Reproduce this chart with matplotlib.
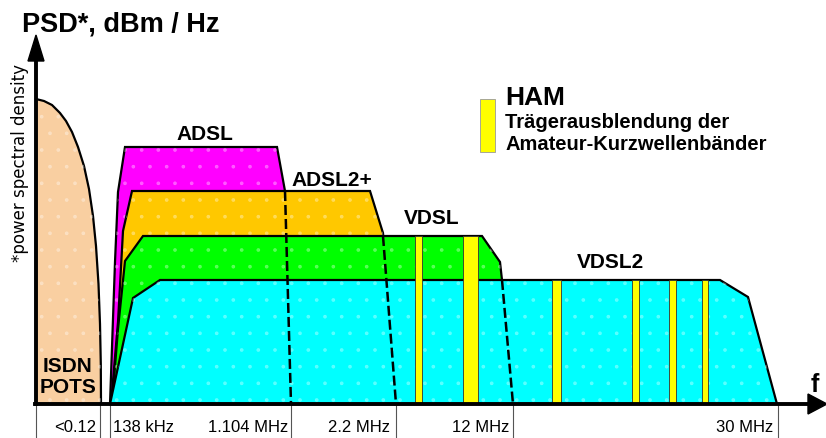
import matplotlib.pyplot as plt

plt.rcParams["hatch.linewidth"] = 0.2

# diagram units: x = position along the frequency axis, y = PSD level above baseline
pots_f = [36, 44, 52, 60, 66, 72, 78, 84, 89, 93, 96, 98.5, 100, 100.8, 101]
pots_psd = [305, 303, 299, 291, 283, 272, 257, 238, 215, 188, 158, 120, 80, 40, 0]

adsl_f = [110, 115, 118, 125, 277, 285, 291]
adsl_psd = [0, 142, 212, 257, 257, 213, 0]

adsl2p_f = [111, 118, 123, 132, 370, 383, 396]
adsl2p_psd = [0, 82, 173, 213, 213, 171, 0]

vdsl_f = [112, 118, 125, 143, 482, 500, 502, 513]
vdsl_psd = [0, 75, 143, 168, 168, 142, 124, 0]

vdsl2_f = [110, 133, 160, 720, 748, 777]
vdsl2_psd = [0, 106, 124, 124, 107, 0]

# cut-off (dashed) lines where a band disappears under the next one
cutoff_f = [(285, 291), (383, 396), (502, 513)]
cutoff_psd = [(213, 0), (168, 0), (124, 0)]

# HAM notches: left edge, width, top
ham_left = [415, 463, 552, 632, 669, 702]
ham_width = [7, 15, 9, 7, 7, 6]
ham_top = [168, 168, 124, 124, 124, 124]

tick_pos = [36, 100, 110, 291, 396, 513, 778]
tick_labels = ["<0.12", "138 kHz", "1.104 MHz", "2.2 MHz", "12 MHz", "30 MHz"]
label_x = [96, 113, 288, 390, 509, 773]
label_ha = ["right", "left", "right", "right", "right", "right"]

band_names = ["ADSL", "ADSL2+", "VDSL", "VDSL2"]
band_name_xy = [(205, 270), (332, 225), (432, 186), (610, 143)]

fig = plt.figure(figsize=(8.26, 4.39), dpi=100)
ax = fig.add_axes([0, 0, 1, 1])
ax.set_xlim(0, 826)
ax.set_ylim(-34, 405)
ax.axis("off")

font = "Liberation Sans"
edge = dict(edgecolor="black", linewidth=1.6)

bands = [
    (pots_f + [36], pots_psd + [0], "#f9cfa1"),
    (adsl_f, adsl_psd, "#ff00ff"),
    (adsl2p_f, adsl2p_psd, "#ffc800"),
    (vdsl_f, vdsl_psd, "#00ff00"),
    (vdsl2_f, vdsl2_psd, "#00ffff"),
]
for i, (f, p, c) in enumerate(bands):
    ax.fill(f, p, facecolor=c, zorder=1 + i, **edge)
    # faint dotted texture
    ax.fill(f, p, facecolor="none", edgecolor=(1, 1, 1, 0.35), linewidth=0,
            hatch=".", zorder=1 + i)

ax.bar(ham_left, ham_top, width=ham_width, align="edge", color="#ffff00",
       edgecolor="#333333", linewidth=0.6, zorder=6)

for f, p in zip(cutoff_f, cutoff_psd):
    ax.plot(f, p, color="black", linestyle=(0, (4, 1.6)), linewidth=1.8, zorder=7)

# axes with arrows
ax.plot([36, 36], [0, 345], color="black", linewidth=2.8, zorder=8)
ax.fill([28, 44, 36], [343, 343, 369], color="black", zorder=8)
ax.plot([35, 810], [0, 0], color="black", linewidth=2.8, zorder=8)
ax.fill([808, 808, 827], [10, -10, 0], color="black", zorder=8)

for x in tick_pos:
    ax.plot([x, x], [0, -34], color="#555555", linewidth=0.8, zorder=1)
for x, t, ha in zip(label_x, tick_labels, label_ha):
    ax.text(x, -23, t, ha=ha, va="center", fontsize=12, family=font)

ax.text(22, 380, "PSD*, dBm / Hz", ha="left", va="center", fontsize=19.5,
        fontweight="bold", family=font)
ax.text(20, 242, "*power spectral density", rotation=90, ha="center",
        va="center", fontsize=12, family="DejaVu Sans")
ax.text(815, 20, "f", ha="center", va="center", fontsize=18,
        fontweight="bold", family=font)

ax.text(68, 38, "ISDN", ha="center", va="center", fontsize=15,
        fontweight="bold", family=font, zorder=9)
ax.text(68, 17, "POTS", ha="center", va="center", fontsize=15,
        fontweight="bold", family=font, zorder=9)

for name, (x, y) in zip(band_names, band_name_xy):
    ax.text(x, y, name, ha="center", va="center", fontsize=15,
            fontweight="bold", family=font)

# HAM legend
ax.bar([480], [53], bottom=[252], width=15, align="edge", color="#ffff00",
       edgecolor="#999999", linewidth=0.6)
ax.text(505, 307, "HAM", ha="left", va="center", fontsize=19,
        fontweight="bold", family=font)
ax.text(505, 283, "Trägerausblendung der", ha="left", va="center",
        fontsize=14.5, fontweight="bold", family=font)
ax.text(505, 261, "Amateur-Kurzwellenbänder", ha="left", va="center",
        fontsize=14.5, fontweight="bold", family=font)

fig.savefig("out.png", dpi=100)
